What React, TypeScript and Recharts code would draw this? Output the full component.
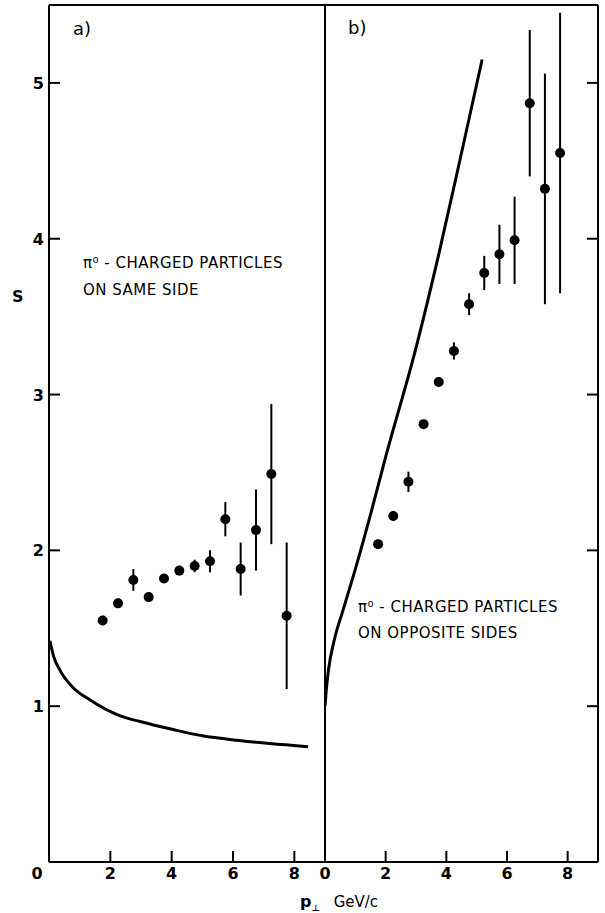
import React from "react";
import {
  ComposedChart,
  Scatter,
  Line,
  XAxis,
  YAxis,
  ErrorBar,
  ReferenceLine,
} from "recharts";

// p_perp bin centres (GeV/c), shared by both panels
const ptBins = [1.75, 2.25, 2.75, 3.25, 3.75, 4.25, 4.75, 5.25, 5.75, 6.25, 6.75, 7.25, 7.75];

// a) pi0 - charged particles on same side
const sameS = [1.55, 1.66, 1.81, 1.7, 1.82, 1.87, 1.9, 1.93, 2.2, 1.88, 2.13, 2.49, 1.58];
const sameErr = [0.03, 0.03, 0.07, 0.02, 0.02, 0.03, 0.04, 0.07, 0.11, 0.17, 0.26, 0.45, 0.47];
const sameCurveX = [0.03, 0.15, 0.36, 0.78, 1.34, 2.3, 3.0, 4.05, 5.0, 6.2, 7.2, 8.45];
const sameCurveS = [1.42, 1.32, 1.23, 1.12, 1.04, 0.94, 0.9, 0.85, 0.81, 0.78, 0.76, 0.74];

// b) pi0 - charged particles on opposite sides
const oppS = [2.04, 2.22, 2.44, 2.81, 3.08, 3.28, 3.58, 3.78, 3.9, 3.99, 4.87, 4.32, 4.55];
const oppErr = [0.02, 0.03, 0.065, 0.02, 0.02, 0.055, 0.07, 0.11, 0.19, 0.28, 0.47, 0.74, 0.9];
const oppCurveX = [0, 0.04, 0.12, 0.3, 0.6, 1.0, 1.5, 2.0, 3.0, 3.75, 4.5, 5.18];
const oppCurveS = [1.0, 1.1, 1.24, 1.42, 1.62, 1.88, 2.23, 2.6, 3.3, 3.9, 4.55, 5.15];

const xTicksA = [2, 4, 6, 8];
const xTicksB = [0, 2, 4, 6, 8];
const yTicks = [0, 1, 2, 3, 4, 5];
const yTicksRight = [1, 2, 3, 4, 5];

const sameData = ptBins.map((x, i) => ({ x, s: sameS[i], err: sameErr[i] }));
const oppData = ptBins.map((x, i) => ({ x, s: oppS[i], err: oppErr[i] }));
const sameCurve = sameCurveX.map((x, i) => ({ x, s: sameCurveS[i] }));
const oppCurve = oppCurveX.map((x, i) => ({ x, s: oppCurveS[i] }));

const FONT = "'DejaVu Sans', sans-serif";
const INK = "#000";

function BottomTick({ x, y, payload }: any) {
  const v = payload.value;
  return (
    <g>
      {v !== 0 && <line x1={x} y1={y} x2={x} y2={y - 11} stroke={INK} strokeWidth={2} />}
      <text x={x} y={y + 17} textAnchor="middle" fontSize={16} fontWeight="bold" fontFamily={FONT} fill={INK}>
        {v}
      </text>
    </g>
  );
}

function LeftTick({ x, y, payload }: any) {
  const v = payload.value;
  if (v === 0) {
    return (
      <text x={x - 12} y={y + 17} textAnchor="middle" fontSize={16} fontWeight="bold" fontFamily={FONT} fill={INK}>
        0
      </text>
    );
  }
  return (
    <g>
      <line x1={x} y1={y} x2={x + 11} y2={y} stroke={INK} strokeWidth={2} />
      <text x={x - 5} y={y + 6} textAnchor="end" fontSize={16} fontWeight="bold" fontFamily={FONT} fill={INK}>
        {v}
      </text>
    </g>
  );
}

function RightTick({ x, y }: any) {
  return <line x1={x} y1={y} x2={x - 11} y2={y} stroke={INK} strokeWidth={2} />;
}

const dot = (p: any) => <circle cx={p.cx} cy={p.cy} r={5} fill={INK} />;

export default function App() {
  return (
    <div style={{ position: "relative", width: 605, height: 913, background: "#fff" }}>
      <style>{"body{margin:0}"}</style>

      <div style={{ position: "absolute", left: 0, top: 0 }}>
        <ComposedChart width={330} height={913} margin={{ top: 5, right: 5, bottom: 0, left: 0 }}>
          <XAxis
            type="number"
            dataKey="x"
            domain={[0, 9]}
            ticks={xTicksA}
            interval={0}
            height={51}
            tickSize={0}
            tickMargin={0}
            tickLine={false}
            tick={BottomTick}
            axisLine={{ stroke: INK, strokeWidth: 2 }}
            allowDataOverflow
          />
          <YAxis
            type="number"
            dataKey="s"
            domain={[0, 5.5]}
            ticks={yTicks}
            interval={0}
            width={49}
            tickSize={0}
            tickMargin={0}
            tickLine={false}
            tick={LeftTick}
            axisLine={{ stroke: INK, strokeWidth: 2 }}
            allowDataOverflow
          />
          <ReferenceLine y={5.5} stroke={INK} strokeWidth={2} />
          <Line
            data={sameCurve}
            dataKey="s"
            type="monotone"
            stroke={INK}
            strokeWidth={3}
            dot={false}
            isAnimationActive={false}
          />
          <Scatter data={sameData} dataKey="s" shape={dot} isAnimationActive={false}>
            <ErrorBar dataKey="err" direction="y" width={0} stroke={INK} strokeWidth={2} />
          </Scatter>
        </ComposedChart>
      </div>

      <div style={{ position: "absolute", left: 300, top: 0 }}>
        <ComposedChart width={305} height={913} margin={{ top: 5, right: 0, bottom: 0, left: 0 }}>
          <XAxis
            type="number"
            dataKey="x"
            domain={[0, 9]}
            ticks={xTicksB}
            interval={0}
            height={51}
            tickSize={0}
            tickMargin={0}
            tickLine={false}
            tick={BottomTick}
            axisLine={{ stroke: INK, strokeWidth: 2 }}
            allowDataOverflow
          />
          <YAxis
            type="number"
            dataKey="s"
            domain={[0, 5.5]}
            width={25}
            tick={false}
            tickLine={false}
            axisLine={{ stroke: INK, strokeWidth: 2 }}
            allowDataOverflow
          />
          <YAxis
            yAxisId="r"
            orientation="right"
            type="number"
            domain={[0, 5.5]}
            ticks={yTicksRight}
            interval={0}
            width={7}
            tickSize={0}
            tickMargin={0}
            tickLine={false}
            tick={RightTick}
            axisLine={{ stroke: INK, strokeWidth: 2 }}
            allowDataOverflow
          />
          <ReferenceLine y={5.5} stroke={INK} strokeWidth={2} />
          <Line
            data={oppCurve}
            dataKey="s"
            type="monotone"
            stroke={INK}
            strokeWidth={3}
            dot={false}
            isAnimationActive={false}
          />
          <Scatter data={oppData} dataKey="s" shape={dot} isAnimationActive={false}>
            <ErrorBar dataKey="err" direction="y" width={0} stroke={INK} strokeWidth={2} />
          </Scatter>
        </ComposedChart>
      </div>

      <svg
        width={605}
        height={913}
        style={{ position: "absolute", left: 0, top: 0, pointerEvents: "none" }}
        fontFamily={FONT}
        fill={INK}
      >
        <text x={73} y={35} fontSize={18}>a)</text>
        <text x={348} y={34} fontSize={18}>b)</text>
        <text x={12} y={302} fontSize={16} fontWeight="bold">S</text>
        <text x={83} y={268} fontSize={15} letterSpacing={0.5}>π⁰ - CHARGED PARTICLES</text>
        <text x={83} y={295} fontSize={15} letterSpacing={0.5}>ON SAME SIDE</text>
        <text x={358} y={612} fontSize={15} letterSpacing={0.5}>π⁰ - CHARGED PARTICLES</text>
        <text x={358} y={638} fontSize={15} letterSpacing={0.5}>ON OPPOSITE SIDES</text>
        <text x={300} y={907} fontSize={16} fontWeight="bold">
          p<tspan fontSize={9} dy={4}>⊥</tspan>
          <tspan dx={14} dy={-4} fontSize={15} fontWeight="normal">GeV/c</tspan>
        </text>
      </svg>
    </div>
  );
}
